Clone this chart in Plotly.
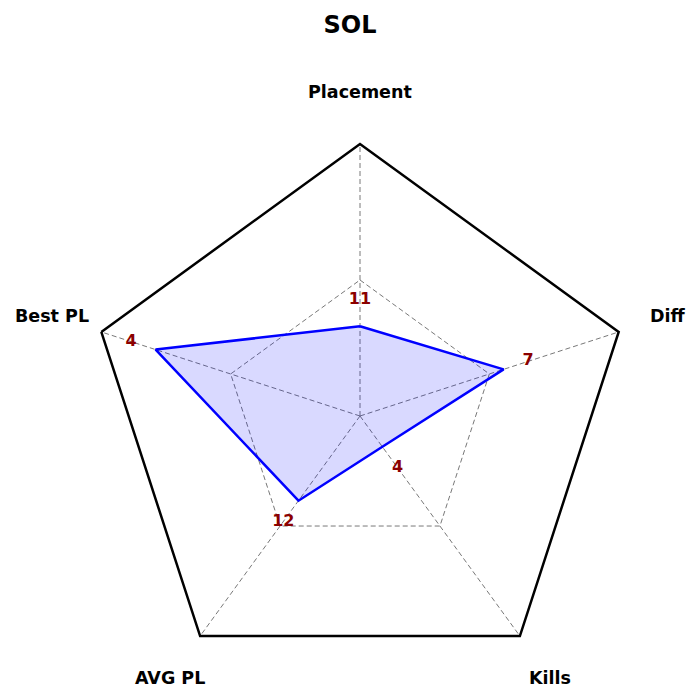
import math
import plotly.graph_objects as go

# ---- data ----
categories = ["Placement", "Diff", "Kills", "AVG PL", "Best PL"]
raw_values = [11, 7, 4, 12, 4]                  # labels shown at each point
scores = [0.33, 0.555, 0.14, 0.385, 0.79]       # normalised radar values (0..1)
title_text = "SOL"

GRID_LEVEL = 0.5
LABEL_OFFSET = 0.095

# polar layout geometry (pixels in a 700x700 figure)
W = H = 700
CX, CY, RAD = 360, 416, 272
CAT_LABEL_R = 1.19

fig = go.Figure()

grid_line = dict(color="rgb(120,120,120)", width=1, dash="5px,3px")

# dashed inner grid ring
fig.add_trace(go.Scatterpolar(
    r=[GRID_LEVEL] * (len(categories) + 1),
    theta=categories + categories[:1],
    mode="lines", line=grid_line,
    hoverinfo="skip", showlegend=False,
))
# dashed spokes
for c in categories:
    fig.add_trace(go.Scatterpolar(
        r=[0, 1], theta=[c, c], mode="lines", line=grid_line,
        hoverinfo="skip", showlegend=False,
    ))

# data polygon
fig.add_trace(go.Scatterpolar(
    r=scores + scores[:1],
    theta=categories + categories[:1],
    mode="lines",
    fill="toself",
    fillcolor="rgba(0,0,255,0.15)",
    line=dict(color="blue", width=2.5),
    showlegend=False,
))

# value labels
fig.add_trace(go.Scatterpolar(
    r=[s + LABEL_OFFSET for s in scores],
    theta=categories,
    mode="text",
    text=[str(v) for v in raw_values],
    textfont=dict(family="DejaVu Sans", size=16, color="#8b0000", weight="bold"),
    cliponaxis=False,
    showlegend=False,
))

# category labels, placed outside the outer ring along each spoke direction
annotations = []
n = len(categories)
for i, c in enumerate(categories):
    ang = 2 * math.pi * i / n
    px = CX + RAD * CAT_LABEL_R * math.sin(ang)
    py = CY - RAD * CAT_LABEL_R * math.cos(ang)
    annotations.append(dict(
        text="<b>%s</b>" % c, x=px / W, y=1 - py / H,
        xref="paper", yref="paper", xanchor="center", yanchor="middle",
        showarrow=False,
        font=dict(family="DejaVu Sans", size=17.5, color="black"),
    ))

fig.update_layout(
    width=W, height=H,
    margin=dict(l=0, r=0, t=0, b=0),
    paper_bgcolor="white",
    annotations=annotations,
    title=dict(text="<b>%s</b>" % title_text, x=0.5, xanchor="center",
               y=1 - 25 / H, yanchor="middle",
               font=dict(family="DejaVu Sans", size=24, color="black")),
    polar=dict(
        domain=dict(x=[(CX - RAD) / W, (CX + RAD) / W],
                    y=[1 - (CY + RAD) / H, 1 - (CY - RAD) / H]),
        gridshape="linear",
        bgcolor="white",
        radialaxis=dict(range=[0, 1], showticklabels=False, ticks="",
                        showgrid=False, showline=False),
        angularaxis=dict(type="category", categoryarray=categories,
                         rotation=90, direction="clockwise",
                         showticklabels=False, ticks="",
                         showgrid=False,
                         showline=True, linecolor="black", linewidth=2.5),
    ),
)

fig.write_html("out.html")
